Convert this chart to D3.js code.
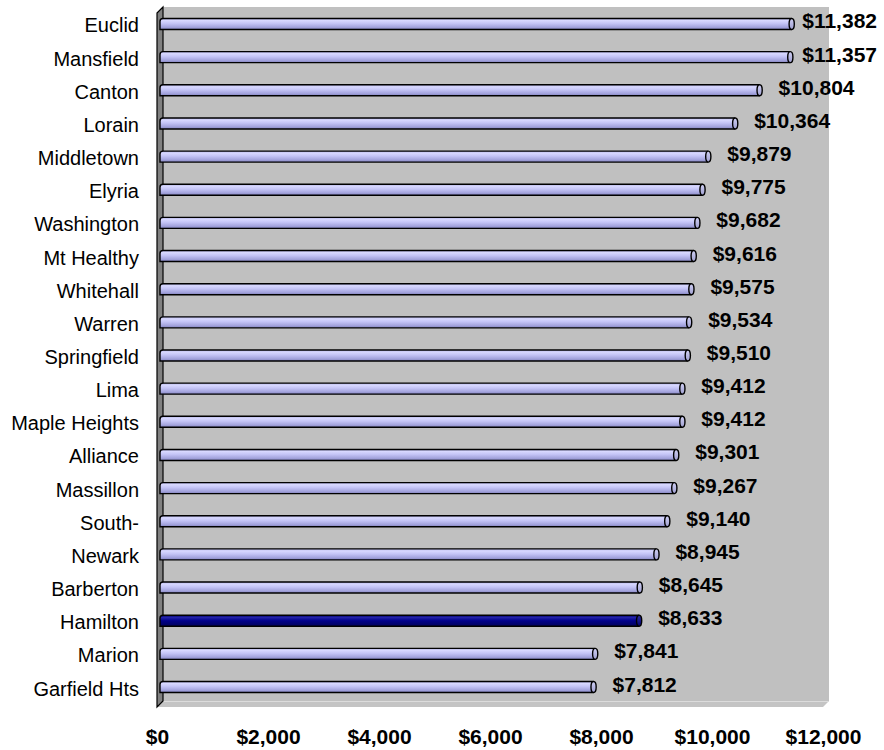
<!DOCTYPE html>
<html>
<head>
<meta charset="utf-8">
<script src="https://cdn.jsdelivr.net/npm/d3@7"></script>
<style>
  html, body { margin: 0; padding: 0; background: #fff; }
  svg { display: block; }
  text { font-family: "Liberation Sans", Arial, sans-serif; }
</style>
</head>
<body>
<svg id="chart" width="884" height="750"></svg>
<script>
const categories = ["Euclid","Mansfield","Canton","Lorain","Middletown","Elyria","Washington","Mt Healthy","Whitehall","Warren","Springfield","Lima","Maple Heights","Alliance","Massillon","South-","Newark","Barberton","Hamilton","Marion","Garfield Hts"];
const values = [11382,11357,10804,10364,9879,9775,9682,9616,9575,9534,9510,9412,9412,9301,9267,9140,8945,8645,8633,7841,7812];
const highlighted = ["Hamilton"];
const tickValues = [0,2000,4000,6000,8000,10000,12000];

const svg = d3.select("#chart");
const depth = 6;               // 3D depth offset
const back = {left: 163, right: 829, top: 7, bottom: 701};

// scales at the back wall; bars are drawn at mid-depth, ticks on the front plane
const xBack = d3.scaleLinear().domain([0, 12000]).range([back.left, back.right]);
const xMid = v => xBack(v) - depth / 2;
const xFront = v => xBack(v) - depth;
const y = d3.scaleBand().domain(categories).range([7.4, 703.6]).paddingInner(0).paddingOuter(0);

const defs = svg.append("defs");
function grad(id, stops) {
  const g = defs.append("linearGradient").attr("id", id).attr("x1", 0).attr("y1", 0).attr("x2", 0).attr("y2", 1);
  stops.forEach(s => g.append("stop").attr("offset", s[0]).attr("stop-color", s[1]));
}
grad("barLight", [[0, "#b0b0e4"], [0.18, "#d8d8ff"], [0.45, "#c4c4f6"], [0.8, "#a2a2dc"], [1, "#8282bc"]]);
grad("barDark", [[0, "#00006a"], [0.2, "#2424a8"], [0.5, "#00008a"], [1, "#00005a"]]);
grad("capLight", [[0, "#d0d0f4"], [1, "#a0a0d0"]]);
grad("capDark", [[0, "#3030a0"], [1, "#000070"]]);

// back wall
svg.append("rect")
  .attr("x", back.left).attr("y", back.top)
  .attr("width", back.right - back.left).attr("height", back.bottom - back.top)
  .attr("fill", "#c0c0c0");

// floor
svg.append("polygon")
  .attr("points", [[back.left - depth, back.bottom + depth], [back.left, back.bottom], [back.right, back.bottom], [back.right - depth, back.bottom + depth]].map(p => p.join(",")).join(" "))
  .attr("fill", "#c4c4c4");
svg.append("line")
  .attr("x1", back.left).attr("x2", back.right).attr("y1", back.bottom + 0.5).attr("y2", back.bottom + 0.5)
  .attr("stroke", "#dcdcdc").attr("stroke-width", 1);

// side wall
svg.append("polygon")
  .attr("points", [[back.left - depth, back.top + depth], [back.left, back.top], [back.left, back.bottom], [back.left - depth, back.bottom + depth]].map(p => p.join(",")).join(" "))
  .attr("fill", "#808080").attr("stroke", "#000").attr("stroke-width", 1.2);

// bars
const barH = 11;
const bars = svg.append("g").selectAll("g").data(categories).join("g");
bars.each(function(c, i) {
  const g = d3.select(this);
  const dark = highlighted.includes(c);
  const cy = y(c) + y.bandwidth() / 2;
  const x0 = xMid(0), x1 = xMid(values[i]);
  g.append("path")
    .attr("d", `M${x1},${cy - barH/2} L${x0 + 3},${cy - barH/2} Q${x0},${cy - barH/2} ${x0},${cy - barH/2 + 3} L${x0},${cy + barH/2} L${x1},${cy + barH/2}`)
    .attr("fill", dark ? "url(#barDark)" : "url(#barLight)")
    .attr("stroke", "#000").attr("stroke-width", 1.4);
  g.append("ellipse")
    .attr("cx", x1).attr("cy", cy).attr("rx", 2.6).attr("ry", barH / 2)
    .attr("fill", dark ? "url(#capDark)" : "url(#capLight)")
    .attr("stroke", "#000").attr("stroke-width", 1.4);
  const t = g.append("text")
    .attr("y", cy + 4.5)
    .attr("font-size", 21).attr("font-weight", "bold").attr("fill", "#000")
    .text(d3.format("$,")(values[i]));
  const w = t.node().getComputedTextLength();
  t.attr("x", Math.min(x1 + 19, 877 - w));
});

// category labels
svg.append("g").selectAll("text").data(categories).join("text")
  .attr("x", 139)
  .attr("y", c => y(c) + y.bandwidth() / 2 + 8.5)
  .attr("text-anchor", "end")
  .attr("font-size", 20).attr("fill", "#000")
  .text(c => c);

// value axis tick labels
const axis = d3.axisBottom(d3.scaleLinear().domain([0, 12000]).range([xFront(0), xFront(12000)]))
  .tickValues(tickValues).tickSize(0).tickPadding(0).tickFormat(d3.format("$,"));
const ag = svg.append("g").attr("transform", "translate(0,729)").call(axis);
ag.select(".domain").remove();
ag.selectAll("text")
  .attr("font-size", 21).attr("font-weight", "bold").attr("fill", "#000")
  .attr("font-family", "'Liberation Sans', Arial, sans-serif")
  .attr("dy", "0.72em").attr("y", 0);
</script>
</body>
</html>
